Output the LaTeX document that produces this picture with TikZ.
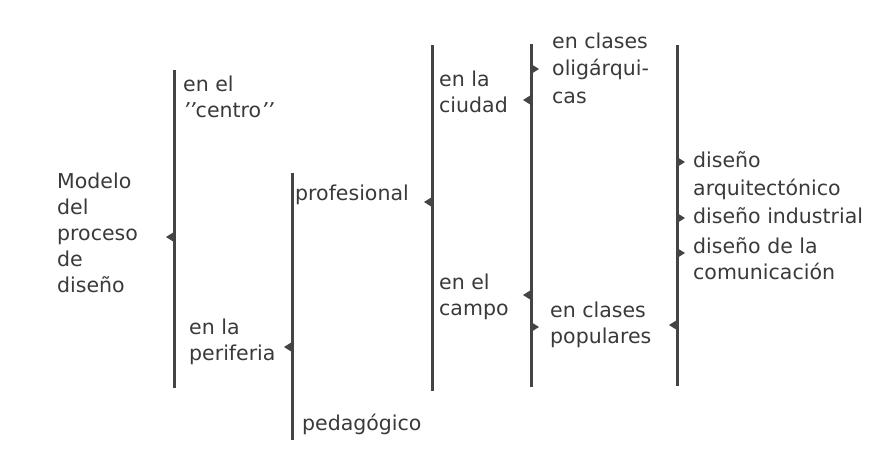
\documentclass[tikz,border=0pt]{standalone}
\usepackage{fontspec}
\setmainfont{DejaVu Sans}
\definecolor{ink}{RGB}{58,58,58}
\definecolor{barc}{RGB}{68,68,68}
\newcommand{\dq}{{\itshape\char"27\kern-0.5pt\char"27}}
\begin{document}
\begin{tikzpicture}[x=1pt,y=-1pt,
  lbl/.style={anchor=base west, inner sep=0pt, align=left, text=ink, font=\fontsize{20.5}{26}\selectfont},
  bar/.style={draw=barc, line width=3pt},
  notchL/.pic={\fill[barc] (0,-5) -- (-8,0) -- (0,5) -- cycle;},
  notchR/.pic={\fill[barc] (0,-5) -- (8,0) -- (0,5) -- cycle;}
  ]
\fill[white] (0,0) rectangle (892,448);
\useasboundingbox (0,0) rectangle (892,448);

% labels (anchored at the baseline of their last line)
\node[lbl] (modelo) at (57,292) {Modelo\\del\\proceso\\de\\diseño};
\node[lbl] (centro) at (183,117) {en el\\\dq centro\dq};
\node[lbl] (periferia) at (189,360) {en la\\periferia};
\node[lbl] (prof) at (295,200) {profesional};
\node[lbl] (ped) at (302,430) {pedagógico};
\node[lbl] (ciudad) at (439,112) {en la\\ciudad};
\node[lbl] (campo) at (439,315) {en el\\campo};
\node[lbl] (olig) at (552,103) {en clases\\[1.5pt]oligárqui-\\[1.5pt]cas};
\node[lbl] (pop) at (550,343) {en clases\\populares};
\node[lbl] (arq) at (693,195) {diseño\\[2pt]arquitectónico};
\node[lbl] (ind) at (693,223) {diseño industrial};
\node[lbl] (com) at (693,279) {diseño de la\\comunicación};

% bars
\coordinate (b1t) at (174,70);  \coordinate (b1b) at (174,388);
\coordinate (b2t) at (292,173); \coordinate (b2b) at (292,440);
\coordinate (b3t) at (432,45);  \coordinate (b3b) at (432,391);
\coordinate (b4t) at (531,44);  \coordinate (b4b) at (531,387);
\coordinate (b5t) at (677,45);  \coordinate (b5b) at (677,386);
\draw[bar] (b1t) -- (b1b);
\draw[bar] (b2t) -- (b2b);
\draw[bar] (b3t) -- (b3b);
\draw[bar] (b4t) -- (b4b);
\draw[bar] (b5t) -- (b5b);

% notches
\pic at (174,237) {notchL};
\pic at (292,347) {notchL};
\pic at (432,202) {notchL};
\pic at (531,69) {notchR};
\pic at (531,100) {notchL};
\pic at (531,295) {notchL};
\pic at (531,327) {notchR};
\pic at (677,162) {notchR};
\pic at (677,218) {notchR};
\pic at (677,253) {notchR};
\pic at (677,325) {notchL};
\end{tikzpicture}
\end{document}
